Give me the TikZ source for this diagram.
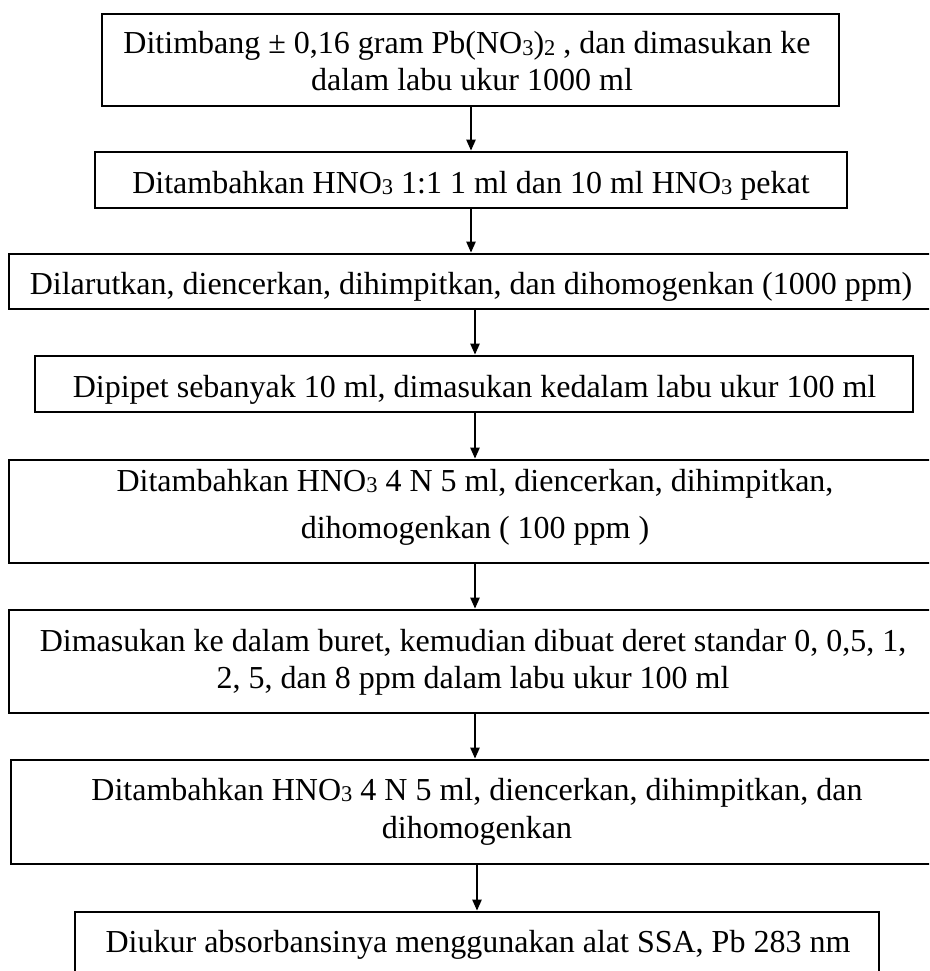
\documentclass[tikz,border=0pt]{standalone}
\usepackage{fontspec}
\setmainfont{Liberation Serif}
\usetikzlibrary{arrows.meta}

% chemical subscript: smaller digit set slightly below the baseline
\newcommand{\chemsub}[1]{\raisebox{-1.7pt}{\fontsize{22.5}{22.5}\selectfont #1}}

\begin{document}
\begin{tikzpicture}[x=1pt,y=-1pt,
  stepbox/.style={draw, line width=2.6pt, inner sep=0pt},
  steptext/.style={anchor=base, inner sep=0pt, font=\fontsize{32}{38}\selectfont},
  flow/.style={line width=2.2pt, -{Triangle[length=11pt,width=9pt]}}]
  \useasboundingbox (0,0) rectangle (929,971);
  \clip (0,0) rectangle (929,971);

  % step boxes
  \node[stepbox, minimum width=737pt, minimum height=92pt] (b1) at (470.5,60) {};
  \node[stepbox, minimum width=752pt, minimum height=56pt] (b2) at (471,180) {};
  \node[stepbox, minimum width=926pt, minimum height=55pt] (b3) at (472,281.5) {};
  \node[stepbox, minimum width=878pt, minimum height=56pt] (b4) at (474,384) {};
  \node[stepbox, minimum width=932pt, minimum height=103pt] (b5) at (475,511.5) {};
  \node[stepbox, minimum width=932pt, minimum height=103pt] (b6) at (475,661.5) {};
  \node[stepbox, minimum width=930pt, minimum height=104pt] (b7) at (476,812) {};
  \node[stepbox, minimum width=804pt, minimum height=100pt] (b8) at (477,962) {};

  % step texts
  \node[steptext] (t1a) at (467,54) {Ditimbang ± 0,16 gram Pb(NO\chemsub{3})\chemsub{2} , dan dimasukan ke};
  \node[steptext] (t1b) at (472,91) {dalam labu ukur 1000 ml};
  \node[steptext] (t2) at (471,193) {Ditambahkan HNO\chemsub{3} 1:1 1 ml dan 10 ml HNO\chemsub{3} pekat};
  \node[steptext] (t3) at (471,294) {Dilarutkan, diencerkan, dihimpitkan, dan dihomogenkan (1000 ppm)};
  \node[steptext] (t4) at (474.5,397) {Dipipet sebanyak 10 ml, dimasukan kedalam labu ukur 100 ml};
  \node[steptext] (t5a) at (475,491) {Ditambahkan HNO\chemsub{3} 4 N 5 ml, diencerkan, dihimpitkan,};
  \node[steptext] (t5b) at (475,538) {dihomogenkan ( 100 ppm )};
  \node[steptext] (t6a) at (473,651) {Dimasukan ke dalam buret, kemudian dibuat deret standar 0, 0,5, 1,};
  \node[steptext] (t6b) at (473,688) {2, 5, dan 8 ppm dalam labu ukur 100 ml};
  \node[steptext] (t7a) at (477,800) {Ditambahkan HNO\chemsub{3} 4 N 5 ml, diencerkan, dihimpitkan, dan};
  \node[steptext] (t7b) at (477,838) {dihomogenkan};
  \node[steptext] (t8) at (478,952) {Diukur absorbansinya menggunakan alat SSA, Pb 283 nm};

  % connectors between consecutive steps
  \draw[flow] (b1.south -| 471,0) -- (b2.north -| 471,0);
  \draw[flow] (b2.south -| 471,0) -- (b3.north -| 471,0);
  \draw[flow] (b3.south -| 475,0) -- (b4.north -| 475,0);
  \draw[flow] (b4.south -| 475,0) -- (b5.north -| 475,0);
  \draw[flow] (b5.south -| 475,0) -- (b6.north -| 475,0);
  \draw[flow] (b6.south -| 475,0) -- (b7.north -| 475,0);
  \draw[flow] (b7.south -| 477,0) -- (b8.north -| 477,0);
\end{tikzpicture}
\end{document}
